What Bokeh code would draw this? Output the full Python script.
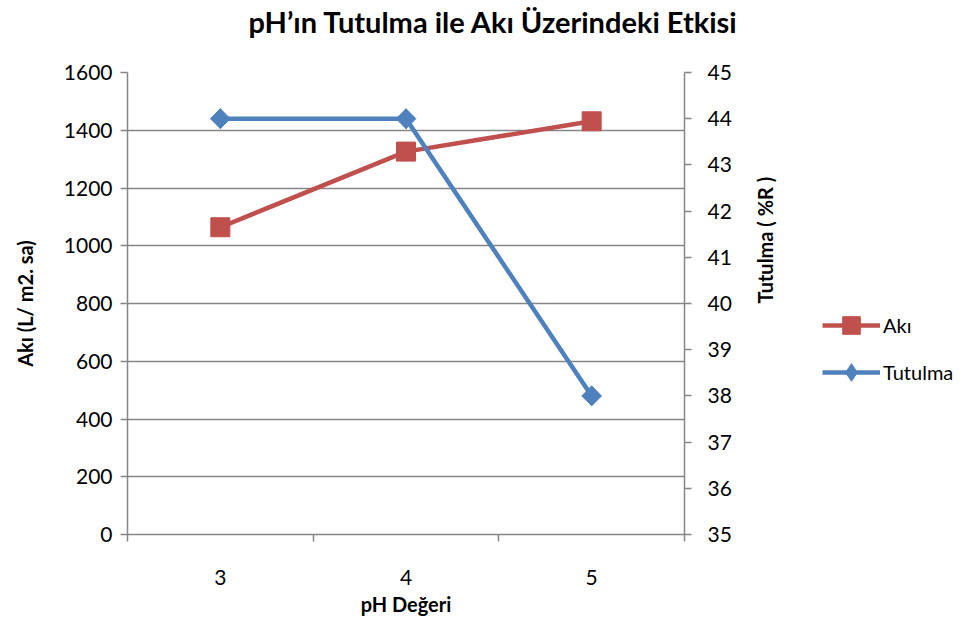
from bokeh.plotting import figure
from bokeh.models import LinearAxis, Range1d, FixedTicker, Legend, LegendItem, Title
from bokeh.layouts import row
from bokeh.embed import file_html
from bokeh.resources import INLINE
import math

ph = [3, 4, 5]
aki = [1064, 1326, 1431]
tutulma = [44, 44, 38]
left_ticks = [0, 200, 400, 600, 800, 1000, 1200, 1400, 1600]
right_ticks = [35, 36, 37, 38, 39, 40, 41, 42, 43, 44, 45]
cat_edges = [2.5, 3.5, 4.5, 5.5]

FONT = "Lato"
AXC = "#868686"
RED = "#C0504D"
BLUE = "#4F81BD"

p = figure(frame_width=557, frame_height=462, output_backend="svg", toolbar_location=None,
           x_range=Range1d(2.5, 5.5), y_range=Range1d(0, 1600),
           min_border_left=127, min_border_top=72, min_border_right=110,
           min_border_bottom=96)
p.outline_line_color = None
p.extra_y_ranges = {"r": Range1d(35, 45)}

p.title.text = "pH’ın Tutulma ile Akı Üzerindeki Etkisi"
p.title.align = "left"
p.title.offset = 121
p.title.text_font = FONT
p.title.text_font_size = "29px"
p.title.text_font_style = "bold"
p.title.text_color = "#000000"
p.title.standoff = 0

spacer = Title(text=" ", text_font_size="10px", standoff=21)
p.add_layout(spacer, "above")

# x axis
xa = p.xaxis[0]
xa.ticker = FixedTicker(ticks=ph, minor_ticks=cat_edges)
xa.major_tick_out = 0
xa.major_tick_in = 0
xa.minor_tick_out = 7
xa.minor_tick_in = 0
xa.minor_tick_line_color = AXC
xa.minor_tick_line_width = 1.5
xa.major_label_standoff = 28
xa.axis_label = "pH Değeri"
xa.axis_label_standoff = 4

# left axis
ya = p.yaxis[0]
ya.ticker = FixedTicker(ticks=left_ticks)
ya.major_tick_out = 7
ya.major_tick_in = 0
ya.minor_tick_line_color = None
ya.axis_label = "Akı (L/ m2. sa)"
ya.axis_label_standoff = 24
ya.major_label_standoff = 8

# right axis
ra = LinearAxis(y_range_name="r", ticker=FixedTicker(ticks=right_ticks),
                axis_label="Tutulma ( %R )")
ra.major_tick_out = 7
ra.major_tick_in = 0
ra.minor_tick_line_color = None
ra.axis_label_standoff = 30
ra.major_label_standoff = 16
ra.axis_label_orientation = math.pi / 2
p.add_layout(ra, "right")

for ax in [xa, ya, ra]:
    ax.axis_line_color = AXC
    ax.axis_line_width = 1.5
    ax.major_tick_line_color = AXC
    ax.major_tick_line_width = 1.5
    ax.major_label_text_font = FONT
    ax.major_label_text_font_size = "21px"
    ax.major_label_text_color = "#000000"
    ax.axis_label_text_font = FONT
    ax.axis_label_text_font_size = "20px"
    ax.axis_label_text_font_style = "bold"
    ax.axis_label_text_color = "#000000"

p.xgrid.visible = False
p.ygrid.ticker = FixedTicker(ticks=left_ticks)
p.ygrid.grid_line_color = AXC
p.ygrid.grid_line_width = 1.5

p.line(ph, aki, color=RED, line_width=4.5)
p.scatter(ph, aki, marker="square", size=19, color=RED)
p.line(ph, tutulma, color=BLUE, line_width=4.5, y_range_name="r")
p.scatter(ph, tutulma, marker="diamond", size=20, color=BLUE, y_range_name="r")
p.scatter(ph, tutulma, marker="square", size=14, angle=math.pi / 4,
          color=BLUE, y_range_name="r")

# legend panel (separate figure to the right of the chart)
p2 = figure(width=179, height=630, output_backend="svg", toolbar_location=None,
            x_range=Range1d(0, 1), y_range=Range1d(0, 1), min_border=0,
            x_axis_location=None, y_axis_location=None, title_location=None)
p2.outline_line_color = None
p2.grid.visible = False
k1 = p2.line(ph, aki, color=RED, line_width=4.5, visible=False)
k2 = p2.scatter(ph, aki, marker="square", size=19, color=RED, visible=False)
k3 = p2.line(ph, tutulma, color=BLUE, line_width=4.5, visible=False)
k4 = p2.scatter(ph, tutulma, marker="diamond", size=20, color=BLUE, visible=False)

legend = Legend(items=[LegendItem(label="Akı", renderers=[k1, k2]),
                       LegendItem(label="Tutulma", renderers=[k3, k4])],
                location=(28, 140), orientation="vertical")
legend.border_line_color = None
legend.background_fill_alpha = 0
legend.padding = 0
legend.margin = 0
legend.spacing = 3
legend.glyph_width = 58
legend.glyph_height = 44
legend.label_standoff = 3
legend.label_text_font = FONT
legend.label_text_font_size = "20px"
legend.label_text_color = "#000000"
legend.inactive_fill_alpha = 0
p2.add_layout(legend, "center")

open("out.html", "w").write(file_html(row(p, p2), INLINE))
